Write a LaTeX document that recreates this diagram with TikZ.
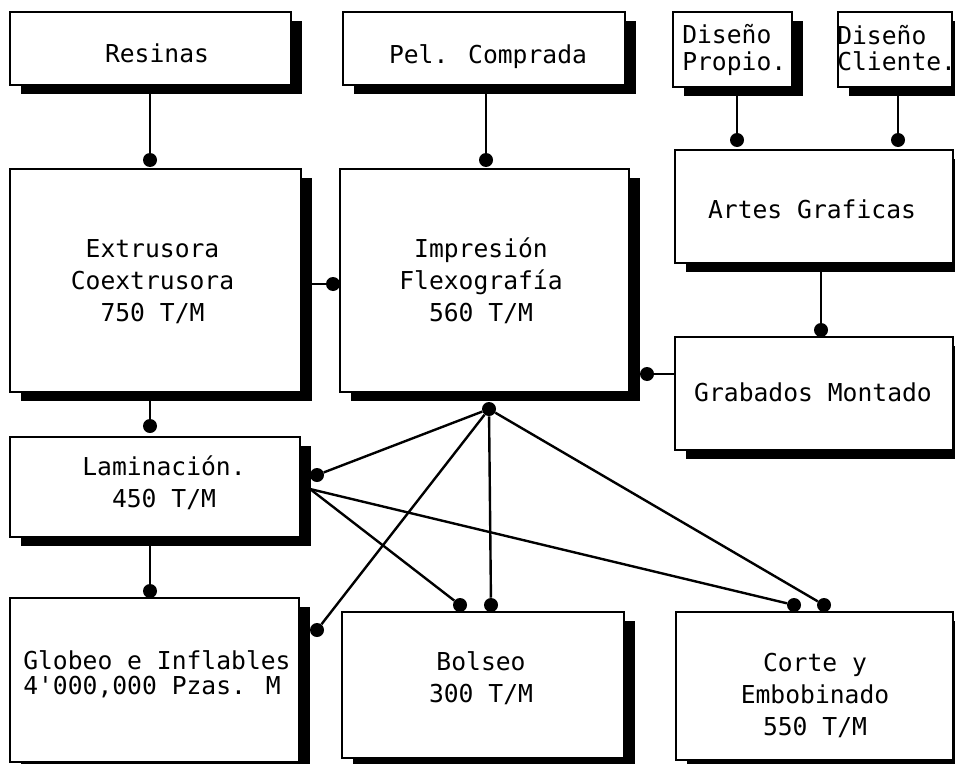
\documentclass[tikz,border=0pt]{standalone}
\usepackage{fontspec}
\setmainfont{DejaVu Sans Mono}
\usetikzlibrary{shadows}
\pgfdeclarelayer{bg}
\pgfsetlayers{bg,main}
\begin{document}
\begin{tikzpicture}[x=0.75pt,y=-0.75pt,
  box/.style={draw=black, line width=1.6pt, fill=white, inner sep=0pt,
    drop shadow={opacity=1, fill=black, shadow xshift=7.9pt, shadow yshift=-6.75pt}},
  sz/.style 2 args={minimum width=#1*0.75pt, minimum height=#2*0.75pt},
  txt/.style={inner sep=0pt, font=\fontsize{18.5}{24}\selectfont, align=center},
  ltxt/.style={inner sep=0pt, anchor=west, align=left},
  dot/.style={circle, fill=black, inner sep=0pt, minimum size=10.5pt},
  conn/.style={line width=1.8pt}]
\useasboundingbox (0,0) rectangle (955,763);
\begin{pgfonlayer}{bg}
\fill[white] (0,0) rectangle (955,763);
\end{pgfonlayer}

% boxes
\node[box, sz={281}{73}] (res) at (150.5,48.5) {};
\node[box, sz={282}{73}] (pel) at (484,48.5) {};
\node[box, sz={119}{75}] (dp) at (732.5,49.5) {};
\node[box, sz={114}{75}] (dc) at (895,49.5) {};
\node[box, sz={278}{113}] (art) at (814,206.5) {};
\node[box, sz={278}{113}] (grab) at (814,393.5) {};
\node[box, sz={291}{223}] (ext) at (155.5,280.5) {};
\node[box, sz={289}{223}] (imp) at (484.5,280.5) {};
\node[box, sz={290}{100}] (lam) at (155,487) {};
\node[box, sz={289}{164}] (glo) at (154.5,680) {};
\node[box, sz={282}{146}] (bol) at (483,685) {};
\node[box, sz={277}{148}] (cor) at (814.5,686) {};

% texts
\node[txt] (tres) at (157,53.5) {Resinas};
\node[txt] (tpel) at (488,57) {Pel. Comprada};
\node[ltxt, font=\fontsize{18.5}{20}\selectfont] (tdp) at (682,50) {Diseño\\Propio.};
\node[ltxt, font=\fontsize{18.5}{20}\selectfont] (tdc) at (837,48) {Diseño\\Cliente.};
\node[txt] (tart) at (812,209) {Artes Graficas};
\node[txt] (tgrab) at (813,392.5) {Grabados Montado};
\node[txt] (text) at (152.5,282) {Extrusora\\Coextrusora\\750 T/M};
\node[txt] (timp) at (481,281) {Impresión\\Flexografía\\560 T/M};
\node[txt] (tlam) at (164,483) {Laminación.\\450 T/M};
\node[ltxt, font=\fontsize{18.5}{18.75}\selectfont] (tglo) at (23,674) {Globeo e Inflables\\4\textquotesingle000,000 Pzas. M};
\node[txt] (tbol) at (481,678.5) {Bolseo\\300 T/M};
\node[txt] (tcor) at (815,695) {Corte y\\Embobinado\\550 T/M};

% dots
\node[dot] (d1) at (150,160) {};
\node[dot] (d2) at (486,160) {};
\node[dot] (d3) at (737,140) {};
\node[dot] (d4) at (898,140) {};
\node[dot] (d5) at (821,330) {};
\node[dot] (d6) at (333,284) {};
\node[dot] (d7) at (647,374) {};
\node[dot] (d8) at (150,426) {};
\node[dot] (d9) at (150,591) {};
\node[dot] (hub) at (489,409) {};
\node[dot] (d10) at (317,475) {};
\node[dot] (d11) at (317,630) {};
\node[dot] (d12) at (491,605) {};
\node[dot] (d13) at (824,605) {};
\node[dot] (d14) at (460,605) {};
\node[dot] (d15) at (794,605) {};
\coordinate (lp) at (310,489);

% connectors
\begin{pgfonlayer}{bg}
\draw[conn] (d1) -- (d1 |- res.south);
\draw[conn] (d2) -- (d2 |- pel.south);
\draw[conn] (d3) -- (d3 |- dp.south);
\draw[conn] (d4) -- (d4 |- dc.south);
\draw[conn] (d5) -- (d5 |- art.south);
\draw[conn] (d6) -- (d6 -| ext.east);
\draw[conn] (d7) -- (d7 -| grab.west);
\draw[conn] (d8) -- (d8 |- ext.south);
\draw[conn] (d9) -- (d9 |- lam.south);
\draw[conn] (hub) -- (d10);
\draw[conn] (hub) -- (d11);
\draw[conn] (hub) -- (d12);
\draw[conn] (hub) -- (d13);
\draw[conn] (lp) -- (d14);
\draw[conn] (lp) -- (d15);
\end{pgfonlayer}
\end{tikzpicture}
\end{document}
